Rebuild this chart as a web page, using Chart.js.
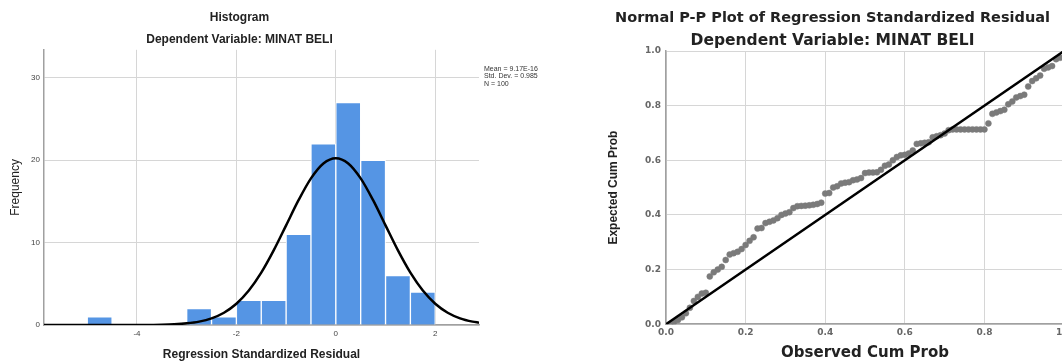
<!DOCTYPE html>
<html lang="en">
<head>
  <meta charset="UTF-8">
  <title>Histogram and Normal P-P Plot</title>
  <script src="https://cdn.jsdelivr.net/npm/chart.js"></script>
  <style>
    html, body {
      margin: 0;
      padding: 0;
      background: #fff;
      overflow: hidden;
      width: 1062px;
      height: 362px;
    }
    .box {
      position: absolute;
      top: 0;
      height: 362px;
    }
    #leftBox { left: 0; width: 636px; }
    #rightBox { left: 590px; width: 485px; }
  </style>
</head>
<body>

  <div class="box" id="leftBox"><canvas id="histChart"></canvas></div>
  <div class="box" id="rightBox"><canvas id="ppChart"></canvas></div>

  <script>
    // Histogram bins (centre of each 0.5 wide bin) and counts
    const histBinCenters = [-4.75, -2.75, -2.25, -1.75, -1.25, -0.75, -0.25, 0.25, 0.75, 1.25, 1.75];
    const histCounts = [1, 2, 1, 3, 3, 11, 22, 27, 20, 6, 4];

    // Normal curve
    const curveX = [-5.87, -5.5, -5, -4.5, -4, -3.5, -3.25, -3, -2.75, -2.5, -2.25, -2, -1.75, -1.5, -1.25, -1,
      -0.75, -0.5, -0.25, 0, 0.25, 0.5, 0.75, 1, 1.25, 1.5, 1.75, 2, 2.25, 2.5, 2.75, 2.88];
    const curveY = [0, 0, 0, 0, 0.01, 0.04, 0.09, 0.20, 0.41, 0.81, 1.49, 2.58, 4.18, 6.35, 9.05, 12.09,
      15.15, 17.80, 19.61, 20.25, 19.61, 17.80, 15.15, 12.09, 9.05, 6.35, 4.18, 2.58, 1.49, 0.81, 0.41, 0.28];

    const histXTicks = [-4, -2, 0, 2];
    const freqTicks = [0, 10, 20, 30];
    const statLines = ['Mean = 9.17E-16', 'Std. Dev. = 0.985', 'N = 100'];

    // P-P plot
    const ppObserved = [
      0.01, 0.02, 0.03, 0.04, 0.05, 0.06, 0.07, 0.08, 0.09, 0.10,
      0.11, 0.12, 0.13, 0.14, 0.15, 0.16, 0.17, 0.18, 0.19, 0.20,
      0.21, 0.22, 0.23, 0.24, 0.25, 0.26, 0.27, 0.28, 0.29, 0.30,
      0.31, 0.32, 0.33, 0.34, 0.35, 0.36, 0.37, 0.38, 0.39, 0.40,
      0.41, 0.42, 0.43, 0.44, 0.45, 0.46, 0.47, 0.48, 0.49, 0.50,
      0.51, 0.52, 0.53, 0.54, 0.55, 0.56, 0.57, 0.58, 0.59, 0.60,
      0.61, 0.62, 0.63, 0.64, 0.65, 0.66, 0.67, 0.68, 0.69, 0.70,
      0.71, 0.72, 0.73, 0.74, 0.75, 0.76, 0.77, 0.78, 0.79, 0.80,
      0.81, 0.82, 0.83, 0.84, 0.85, 0.86, 0.87, 0.88, 0.89, 0.90,
      0.91, 0.92, 0.93, 0.94, 0.95, 0.96, 0.97, 0.98, 0.99, 1.00
    ];
    const ppExpected = [
      0.000, 0.008, 0.015, 0.025, 0.040, 0.060, 0.085, 0.100, 0.112, 0.115,
      0.175, 0.190, 0.200, 0.210, 0.235, 0.255, 0.260, 0.265, 0.275, 0.290,
      0.305, 0.318, 0.350, 0.352, 0.370, 0.375, 0.380, 0.388, 0.400, 0.405,
      0.410, 0.425, 0.432, 0.433, 0.434, 0.435, 0.437, 0.440, 0.445, 0.478,
      0.480, 0.500, 0.505, 0.515, 0.518, 0.520, 0.527, 0.530, 0.535, 0.553,
      0.555, 0.555, 0.556, 0.565, 0.580, 0.585, 0.600, 0.612, 0.618, 0.620,
      0.625, 0.636, 0.660, 0.662, 0.664, 0.666, 0.684, 0.688, 0.692, 0.698,
      0.710, 0.713, 0.713, 0.713, 0.713, 0.713, 0.713, 0.713, 0.713, 0.713,
      0.735, 0.770, 0.775, 0.780, 0.785, 0.805, 0.815, 0.830, 0.835, 0.840,
      0.870, 0.890, 0.900, 0.910, 0.935, 0.940, 0.945, 0.970, 0.975, 0.978
    ];
    const diagonal = [0, 1];
    const ppTicks = [0, 0.2, 0.4, 0.6, 0.8, 1.0];

    Chart.defaults.animation = false;
    Chart.defaults.plugins.legend.display = false;
    Chart.defaults.plugins.tooltip.enabled = false;

    // little stats box next to the histogram
    const statsText = {
      id: 'statsText',
      afterDraw(chart) {
        const ctx = chart.ctx;
        ctx.save();
        ctx.font = '7px "Liberation Sans", Arial, sans-serif';
        ctx.fillStyle = '#333';
        ctx.textBaseline = 'middle';
        statLines.forEach((s, i) => ctx.fillText(s, 484, 69 + i * 7.5));
        ctx.restore();
      }
    };

    // Chart: Histogram
    new Chart(document.getElementById('histChart'), {
      type: 'bar',
      data: {
        datasets: [{
          type: 'line',
          data: curveX.map((x, i) => ({ x: x, y: curveY[i] })),
          borderColor: '#000',
          borderWidth: 2.5,
          pointRadius: 0,
          cubicInterpolationMode: 'monotone',
          order: 1
        }, {
          data: histBinCenters.map((x, i) => ({ x: x, y: histCounts[i] })),
          backgroundColor: '#5595e4',
          borderColor: '#ffffff',
          borderWidth: 1,
          borderSkipped: 'bottom',
          barPercentage: 1,
          categoryPercentage: 1,
          order: 2
        }]
      },
      options: {
        responsive: true,
        maintainAspectRatio: false,
        layout: { padding: { left: 0, right: 157, top: 0, bottom: 0 } },
        plugins: {
          title: {
            display: true,
            text: 'Histogram',
            color: '#222',
            font: { family: '"Liberation Sans", Arial, sans-serif', size: 12, weight: 'bold' },
            padding: { top: 10, bottom: 8 }
          },
          subtitle: {
            display: true,
            text: 'Dependent Variable: MINAT BELI',
            color: '#222',
            font: { family: '"Liberation Sans", Arial, sans-serif', size: 12, weight: 'bold' },
            padding: { top: 0, bottom: 3 }
          }
        },
        scales: {
          x: {
            type: 'linear',
            min: -5.87,
            max: 2.88,
            offset: false,
            afterBuildTicks: s => { s.ticks = histXTicks.map(v => ({ value: v })); },
            grid: { color: '#d6d6d6', drawTicks: false, offset: false },
            border: { color: '#a0a0a0', width: 1.5 },
            ticks: {
              color: '#444',
              padding: 4,
              font: { family: '"Liberation Sans", Arial, sans-serif', size: 8 }
            },
            title: {
              display: true,
              text: 'Regression Standardized Residual',
              color: '#222',
              font: { family: '"Liberation Sans", Arial, sans-serif', size: 12, weight: 'bold' },
              padding: { top: 5, bottom: 0 }
            }
          },
          y: {
            min: 0,
            max: 33.4,
            afterBuildTicks: s => { s.ticks = freqTicks.map(v => ({ value: v })); },
            afterFit: s => { s.width = 44; },
            grid: { color: '#d6d6d6', drawTicks: false },
            border: { color: '#a0a0a0', width: 1.5 },
            ticks: {
              color: '#444',
              padding: 4,
              font: { family: '"Liberation Sans", Arial, sans-serif', size: 8 }
            },
            title: {
              display: true,
              text: 'Frequency',
              color: '#222',
              font: { family: '"Liberation Sans", Arial, sans-serif', size: 12 },
              padding: { top: 8, bottom: 0 }
            }
          }
        }
      },
      plugins: [statsText]
    });

    // Chart: Normal P-P plot
    new Chart(document.getElementById('ppChart'), {
      type: 'scatter',
      data: {
        datasets: [{
          type: 'line',
          data: diagonal.map(v => ({ x: v, y: v })),
          borderColor: '#000',
          borderWidth: 2.5,
          pointRadius: 0,
          order: 1
        }, {
          data: ppObserved.map((x, i) => ({ x: x, y: ppExpected[i] })),
          backgroundColor: '#7a7a7a',
          borderColor: '#7a7a7a',
          pointRadius: 3,
          borderWidth: 0.5,
          order: 2
        }]
      },
      options: {
        responsive: true,
        maintainAspectRatio: false,
        layout: { padding: 0 },
        plugins: {
          title: {
            display: true,
            text: 'Normal P-P Plot of Regression Standardized Residual',
            color: '#222',
            font: { family: '"DejaVu Sans", sans-serif', size: 14.5, weight: 'bold' },
            padding: { top: 10, bottom: 4 }
          },
          subtitle: {
            display: true,
            text: 'Dependent Variable: MINAT BELI',
            color: '#222',
            font: { family: '"DejaVu Sans", sans-serif', size: 15.5, weight: 'bold' },
            padding: { top: 0, bottom: 1 }
          }
        },
        scales: {
          x: {
            type: 'linear',
            min: 0,
            max: 1,
            afterBuildTicks: s => { s.ticks = ppTicks.map(v => ({ value: v })); },
            grid: { color: '#d6d6d6', drawTicks: false },
            border: { color: '#a0a0a0', width: 1.5 },
            ticks: {
              color: '#666',
              padding: 3,
              callback: v => v.toFixed(1),
              font: { family: '"DejaVu Sans", sans-serif', size: 9, weight: 'bold' }
            },
            title: {
              display: true,
              text: 'Observed Cum Prob',
              color: '#222',
              font: { family: '"DejaVu Sans", sans-serif', size: 15, weight: 'bold' },
              padding: { top: 3, bottom: 0 }
            }
          },
          y: {
            min: 0,
            max: 1,
            afterBuildTicks: s => { s.ticks = ppTicks.map(v => ({ value: v })); },
            afterFit: s => { s.width = 76; },
            grid: { color: '#d6d6d6', drawTicks: false },
            border: { color: '#a0a0a0', width: 1.5 },
            ticks: {
              color: '#666',
              padding: 5,
              callback: v => v.toFixed(1),
              font: { family: '"DejaVu Sans", sans-serif', size: 9, weight: 'bold' }
            },
            title: {
              display: true,
              text: 'Expected Cum Prob',
              color: '#222',
              font: { family: '"Liberation Sans", Arial, sans-serif', size: 12, weight: 'bold' },
              padding: { top: 16, bottom: 0 }
            }
          }
        }
      }
    });
  </script>

</body>
</html>
